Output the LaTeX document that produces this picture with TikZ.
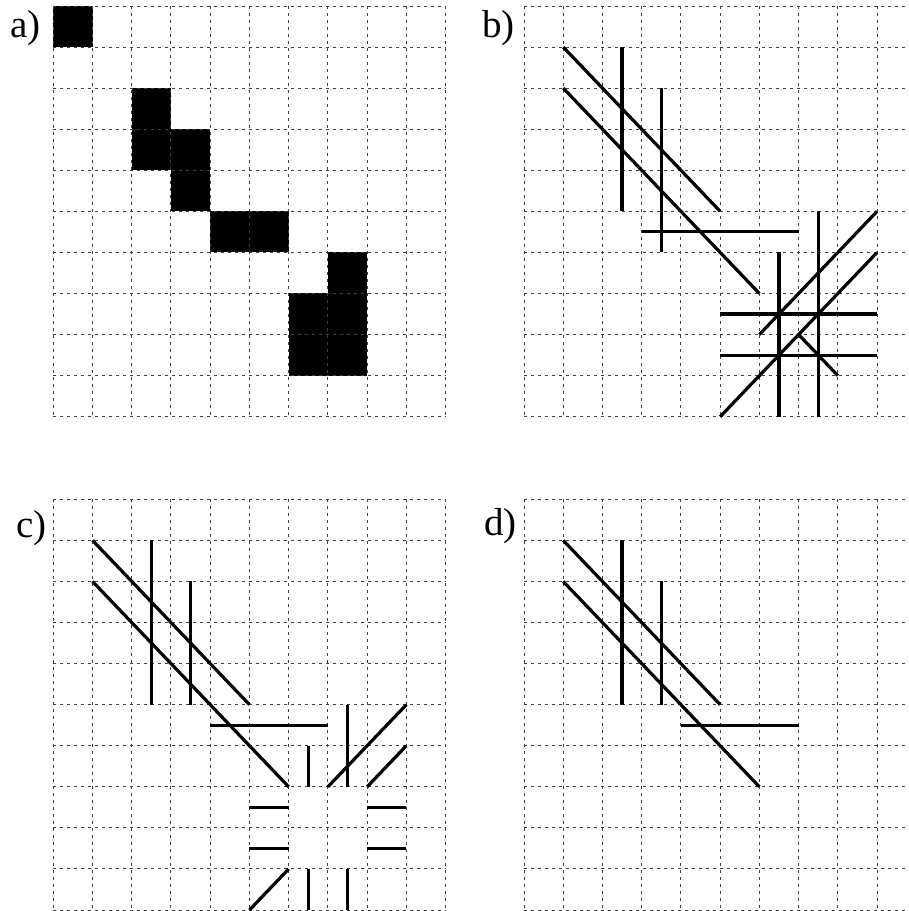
\documentclass[tikz,border=0pt]{standalone}
\usepackage{fontspec}
\setmainfont{Liberation Serif}
\tikzset{
  gridline/.style={line width=0.5pt, black!75, dash pattern=on 1.25pt off 2.25pt},
  thickline/.style={line width=1.6pt, black},
  cellfill/.style={fill=black},
  panellabel/.style={anchor=base west, inner sep=0pt, font=\fontsize{19.5}{20}\selectfont},
  cellunits/.style={x=19.615pt, y=-20.535pt}
}
\newcommand{\mygrid}{%
  \foreach \i in {0,...,10} {
    \draw[gridline] (\i,0) -- (\i,10);
    \draw[gridline] (0,\i) -- (10,\i);
  }%
}
\begin{document}
\begin{tikzpicture}[x=0.5pt, y=-0.5pt]
  \useasboundingbox (0,0) rectangle (909,911);
  \clip (0,0) rectangle (909,911);

  % labels
  \node[panellabel] (la) at (10,37) {a)};
  \node[panellabel] (lb) at (482,37) {b)};
  \node[panellabel] (lc) at (16,537) {c)};
  \node[panellabel] (ld) at (484,535) {d)};

  % panel a
  \begin{scope}[xshift=26.65pt, yshift=-3pt, cellunits]
    \fill[cellfill] (0,0) rectangle (1,1);
    \fill[cellfill] (2,2) rectangle (3,4);
    \fill[cellfill] (3,3) rectangle (4,5);
    \fill[cellfill] (4,5) rectangle (6,6);
    \fill[cellfill] (7,6) rectangle (8,9);
    \fill[cellfill] (6,7) rectangle (7,9);
    \mygrid
  \end{scope}

  % panel b
  \begin{scope}[xshift=262pt, yshift=-3pt, cellunits]
    \mygrid
    \draw[thickline] (1,1) -- (5,5);
    \draw[thickline] (1,2) -- (6,7);
    \draw[thickline] (2.5,1) -- (2.5,5);
    \draw[thickline] (3.5,2) -- (3.5,6);
    \draw[thickline] (3,5.5) -- (7,5.5);
    \draw[thickline] (6.5,6) -- (6.5,10);
    \draw[thickline] (7.5,5) -- (7.5,10);
    \draw[thickline] (5,7.5) -- (9,7.5);
    \draw[thickline] (5,8.5) -- (9,8.5);
    \draw[thickline] (6,8) -- (9,5);
    \draw[thickline] (5,10) -- (9,6);
    \draw[thickline] (7,8) -- (8,9);
  \end{scope}

  % panel c
  \begin{scope}[xshift=26.65pt, yshift=-249.65pt, cellunits]
    \mygrid
    \draw[thickline] (1,1) -- (5,5);
    \draw[thickline] (1,2) -- (6,7);
    \draw[thickline] (2.5,1) -- (2.5,5);
    \draw[thickline] (3.5,2) -- (3.5,5);
    \draw[thickline] (4,5.5) -- (7,5.5);
    \draw[thickline] (6.5,6) -- (6.5,7);
    \draw[thickline] (7.5,5) -- (7.5,7);
    \draw[thickline] (7,7) -- (9,5);
    \draw[thickline] (8,7) -- (9,6);
    \draw[thickline] (5,7.5) -- (6,7.5);
    \draw[thickline] (8,7.5) -- (9,7.5);
    \draw[thickline] (5,8.5) -- (6,8.5);
    \draw[thickline] (8,8.5) -- (9,8.5);
    \draw[thickline] (5,10) -- (6,9);
    \draw[thickline] (6.5,9) -- (6.5,10);
    \draw[thickline] (7.5,9) -- (7.5,10);
  \end{scope}

  % panel d
  \begin{scope}[xshift=262pt, yshift=-249.65pt, cellunits]
    \mygrid
    \draw[thickline] (1,1) -- (5,5);
    \draw[thickline] (1,2) -- (6,7);
    \draw[thickline] (2.5,1) -- (2.5,5);
    \draw[thickline] (3.5,2) -- (3.5,5);
    \draw[thickline] (4,5.5) -- (7,5.5);
  \end{scope}
\end{tikzpicture}
\end{document}
